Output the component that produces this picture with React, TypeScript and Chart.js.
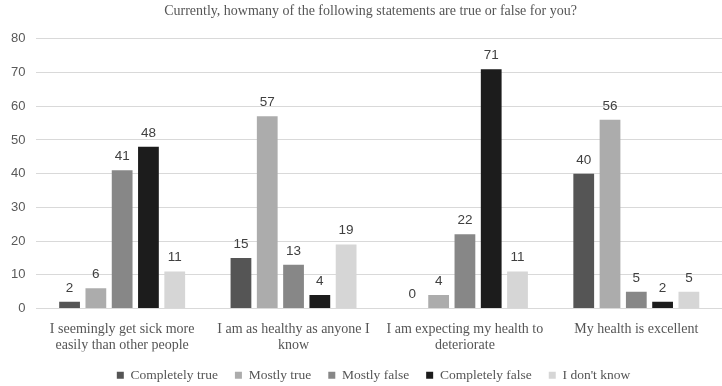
import React, { useEffect, useRef } from "react";
import { Chart, registerables } from "chart.js";

Chart.register(...registerables);

const categories: (string | string[])[] = [
  ["I seemingly get sick more", "easily than other people"],
  ["I am as healthy as anyone I", "know"],
  ["I am expecting my health to", "deteriorate"],
  "My health is excellent",
];
const seriesNames = ["Completely true", "Mostly true", "Mostly false", "Completely false", "I don't know"];
const completelyTrue = [2, 15, 0, 40];
const mostlyTrue = [6, 57, 4, 56];
const mostlyFalse = [41, 13, 22, 5];
const completelyFalse = [48, 4, 71, 2];
const dontKnow = [11, 19, 11, 5];
const seriesColors = ["#555555", "#acacac", "#878787", "#1c1c1c", "#d6d6d6"];
const yTicksMax = 80;
const titleText = "Currently, howmany of the following statements are true or false for you?";

const valueLabels = {
  id: "valueLabels",
  afterDatasetsDraw(chart: any) {
    const ctx = chart.ctx;
    ctx.save();
    ctx.font = "13.5px 'Liberation Sans', sans-serif";
    ctx.fillStyle = "#404040";
    ctx.textAlign = "center";
    ctx.textBaseline = "bottom";
    chart.data.datasets.forEach((ds: any, i: number) => {
      const meta = chart.getDatasetMeta(i);
      meta.data.forEach((bar: any, j: number) => {
        ctx.fillText(String(ds.data[j]), bar.x, bar.y - 7);
      });
    });
    ctx.restore();
  },
};

// nudge title and legend slightly right, as in the reference
const nudgeBlocks = {
  id: "nudgeBlocks",
  afterLayout(chart: any) {
    if (chart.legend) {
      chart.legend.left += 10;
      chart.legend.right += 10;
    }
    if (chart.titleBlock) {
      chart.titleBlock.left += 7;
      chart.titleBlock.right += 7;
    }
  },
};

export default function App() {
  const ref = useRef<HTMLCanvasElement>(null);
  useEffect(() => {
    const all = [completelyTrue, mostlyTrue, mostlyFalse, completelyFalse, dontKnow];
    const chart = new Chart(ref.current!, {
      type: "bar",
      data: {
        labels: categories,
        datasets: all.map((d, i) => ({
          label: seriesNames[i],
          data: d,
          backgroundColor: seriesColors[i],
          borderWidth: 0,
          categoryPercentage: 0.767,
          barPercentage: 0.79,
        })),
      },
      options: {
        animation: false,
        responsive: false,
        maintainAspectRatio: false,
        layout: { padding: { left: 0, right: -5, top: 0, bottom: -6 } },
        plugins: {
          title: {
            display: true,
            text: titleText,
            color: "#555555",
            font: { family: "'Liberation Serif', serif", size: 14, weight: "normal" },
            padding: { top: 3, bottom: 19 },
          },
          legend: {
            position: "bottom",
            labels: {
              boxWidth: 7,
              boxHeight: 7,
              color: "#555555",
              font: { family: "'Liberation Serif', serif", size: 13.5 },
              padding: 17,
            },
          },
          tooltip: { enabled: false },
        },
        scales: {
          x: {
            grid: { display: false },
            border: { color: "#d9d9d9" },
            ticks: {
              color: "#555555",
              font: { family: "'Liberation Serif', serif", size: 14, lineHeight: 1.15 },
              maxRotation: 0,
              autoSkip: false,
              padding: 5,
            },
            afterFit: (scale: any) => {
              scale.height = 43;
            },
          },
          y: {
            min: 0,
            max: yTicksMax,
            ticks: {
              stepSize: 10,
              color: "#595959",
              font: { family: "'Liberation Sans', sans-serif", size: 13 },
              padding: 11,
            },
            grid: { color: "#d9d9d9", drawTicks: false },
            border: { display: false },
          },
        },
      },
      plugins: [valueLabels, nudgeBlocks],
    });
    return () => chart.destroy();
  }, []);
  return (
    <div style={{ position: "fixed", left: 0, top: 0, width: 722, height: 386, background: "#fff" }}>
      <canvas ref={ref} width={722} height={386} />
    </div>
  );
}
